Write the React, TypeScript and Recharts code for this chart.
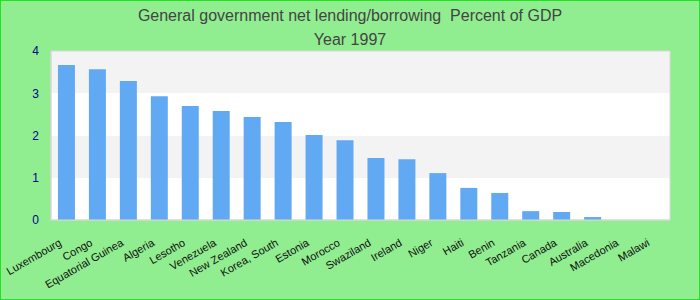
import { BarChart, Bar, XAxis, YAxis, CartesianGrid } from 'recharts'

const countries = [
  'Luxembourg',
  'Congo',
  'Equatorial Guinea',
  'Algeria',
  'Lesotho',
  'Venezuela',
  'New Zealand',
  'Korea, South',
  'Estonia',
  'Morocco',
  'Swaziland',
  'Ireland',
  'Niger',
  'Haiti',
  'Benin',
  'Tanzania',
  'Canada',
  'Australia',
  'Macedonia',
  'Malawi',
]

const lending = [
  3.67, 3.57, 3.29, 2.93, 2.7, 2.58, 2.44, 2.32, 2.01, 1.89, 1.47, 1.44, 1.11, 0.76, 0.64, 0.21,
  0.19, 0.07, 0, 0,
]

const yTicks = [0, 1, 2, 3, 4]

const data = countries.map((name, i) => ({ name, value: lending[i] }))

const font = '"Liberation Sans", Arial, sans-serif'

// eslint-disable-next-line @typescript-eslint/no-explicit-any
function CountryTick({ x, y, payload }: any) {
  return (
    <g transform={`translate(${x},${y})`}>
      <text
        x={-12}
        y={12.5}
        transform="rotate(-30)"
        textAnchor="end"
        fontSize={11}
        fill="#111"
        fontFamily={font}
      >
        {payload.value}
      </text>
    </g>
  )
}

// eslint-disable-next-line @typescript-eslint/no-explicit-any
const edgesX = ({ offset }: any) => [offset.left, offset.left + offset.width]
// eslint-disable-next-line @typescript-eslint/no-explicit-any
const edgesY = ({ offset }: any) => [offset.top, offset.top + offset.height]

export default function App() {
  return (
    <div
      style={{
        position: 'absolute',
        left: 0,
        top: 0,
        width: 700,
        height: 300,
        boxSizing: 'border-box',
        border: '1px solid #1ee51e',
        background: '#90ee90',
        fontFamily: font,
        overflow: 'hidden',
      }}
    >
      <div
        style={{
          position: 'absolute',
          left: 0,
          top: 3,
          width: 698,
          textAlign: 'center',
          fontSize: 16,
          lineHeight: '24px',
          color: '#444',
        }}
      >
        <div>General government net lending/borrowing&nbsp; Percent of GDP</div>
        <div>Year 1997</div>
      </div>
      <div style={{ position: 'absolute', left: -1, top: -1 }}>
        <BarChart
          width={700}
          height={300}
          data={data}
          margin={{ top: 51, right: 30, left: 11, bottom: 0 }}
          barCategoryGap="22.5%"
          style={{ fontFamily: font }}
        >
          <CartesianGrid
            vertical={false}
            stroke="none"
            horizontalFill={['#f3f3f3', '#ffffff']}
            fillOpacity={1}
          />
          <CartesianGrid
            stroke="#d9d9d9"
            verticalCoordinatesGenerator={edgesX}
            horizontalCoordinatesGenerator={edgesY}
          />
          <XAxis
            dataKey="name"
            interval={0}
            height={80}
            tickLine={false}
            axisLine={{ stroke: '#d6d6d6' }}
            tick={<CountryTick />}
          />
          <YAxis
            domain={[0, 4]}
            ticks={yTicks}
            width={40}
            tickLine={false}
            tickMargin={6}
            axisLine={{ stroke: '#d6d6d6' }}
            tick={{ fontSize: 12, fill: '#00008b' }}
          />
          <Bar dataKey="value" fill="#62a9f4" isAnimationActive={false} />
        </BarChart>
      </div>
    </div>
  )
}
